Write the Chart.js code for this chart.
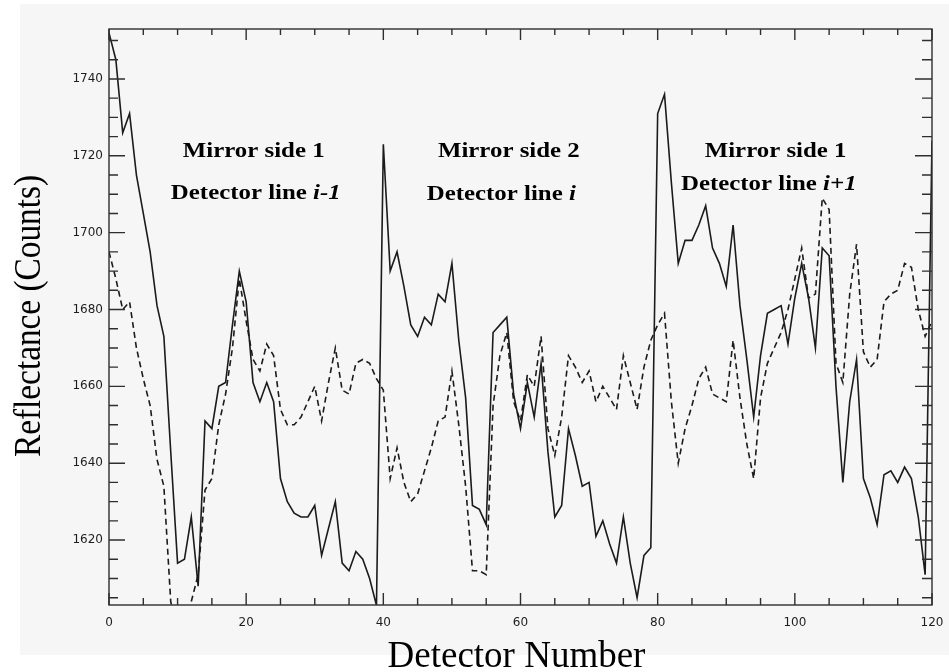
<!DOCTYPE html>
<html>
<head>
<meta charset="utf-8">
<script src="https://cdn.jsdelivr.net/npm/chart.js@4.4.1/dist/chart.umd.min.js"></script>
<style>
html,body{margin:0;padding:0;background:#fff;}
#wrap{width:949px;height:672px;position:relative;}
canvas{display:block;}
</style>
</head>
<body>
<div id="wrap"><canvas id="c" width="949" height="672"></canvas></div>
<script>
// ---- data ----
const detectors = [
  0,1,2,3,4,5,6,7,8,9,10,11,12,13,14,15,16,17,18,19,
  20,21,22,23,24,25,26,27,28,29,30,31,32,33,34,35,36,37,38,39,
  40,41,42,43,44,45,46,47,48,49,50,51,52,53,54,55,56,57,58,59,
  60,61,62,63,64,65,66,67,68,69,70,71,72,73,74,75,76,77,78,79,
  80,81,82,83,84,85,86,87,88,89,90,91,92,93,94,95,96,97,98,99,
  100,101,102,103,104,105,106,107,108,109,110,111,112,113,114,115,116,117,118,119,120
];
const solidCounts = [
  1752,1745,1726,1731,1715,1705,1695,1681,1673,1643,
  1614,1615,1626,1608,1651,1649,1660,1661,1676,1690,
  1682,1661,1656,1661,1656,1636,1630,1627,1626,1626,
  1629,1616,1623,1630,1614,1612,1617,1615,1610,1603,
  1723,1690,1695,1686,1676,1673,1678,1676,1684,1682,
  1692,1672,1657,1629,1628,1624,1674,1676,1678,1658,
  1649,1661,1652,1666,1643,1626,1629,1649,1642,1634,
  1635,1621,1625,1619,1614,1626,1614,1605,1616,1618,
  1731,1736,1713,1692,1698,1698,1702,1707,1696,1692,
  1686,1702,1681,1667,1652,1668,1679,1680,1681,1671,
  1683,1692,1683,1670,1696,1694,1660,1635,1656,1667,
  1636,1631,1624,1637,1638,1635,1639,1636,1626,1611,1724
];
const dashedCounts = [
  1695,1688,1680,1682,1670,1662,1655,1641,1634,1604,
  1596,1597,1604,1611,1633,1636,1650,1658,1670,1688,
  1677,1667,1664,1671,1668,1654,1650,1650,1652,1656,
  1660,1651,1661,1670,1659,1658,1666,1667,1666,1662,
  1659,1636,1644,1635,1630,1632,1638,1644,1651,1652,
  1664,1650,1634,1612,1612,1611,1655,1668,1674,1656,
  1651,1663,1660,1673,1649,1642,1652,1668,1665,1661,
  1664,1656,1660,1657,1654,1668,1661,1654,1665,1672,
  1676,1679,1656,1640,1649,1655,1662,1665,1658,1657,
  1656,1672,1657,1645,1636,1657,1666,1670,1674,1680,
  1688,1696,1683,1684,1709,1706,1666,1661,1684,1697,
  1669,1665,1667,1682,1684,1685,1692,1691,1680,1673,1677
];
const xTickLabels = [0,20,40,60,80,100,120];
const yTickLabels = [1620,1640,1660,1680,1700,1720,1740];
const xTitle = 'Detector Number';
const yTitle = 'Reflectance (Counts)';
// annotation texts, anchored in data units (detector, counts)
const annotationTexts = [
  {x:21.1, y:1719.8, runs:[{t:'Mirror side 1'}]},
  {x:21.4, y:1708.8, runs:[{t:'Detector line '},{t:'i-1',it:true}]},
  {x:58.3, y:1719.7, runs:[{t:'Mirror side 2'}]},
  {x:57.2, y:1708.5, runs:[{t:'Detector line '},{t:'i',it:true}]},
  {x:97.2, y:1719.7, runs:[{t:'Mirror side 1'}]},
  {x:96.2, y:1711.1, runs:[{t:'Detector line '},{t:'i+1',it:true}]}
];

// ---- styling ----
const ink = '#1b1b1b';
const frameInk = '#2e2e2e';
const serif = '"Liberation Serif", "Times New Roman", serif';

const bgPlugin = {
  id: 'bg',
  beforeDraw(chart) {
    const c = chart.ctx;
    c.save();
    c.fillStyle = '#ffffff';
    c.fillRect(0, 0, chart.width, chart.height);
    c.fillStyle = '#f6f6f6';
    c.fillRect(20, 4, chart.width - 20, 651);
    c.restore();
  }
};

const framePlugin = {
  id: 'frame',
  afterDatasetsDraw(chart) {
    const {ctx, chartArea: a, scales: {x, y}} = chart;
    ctx.save();
    ctx.strokeStyle = frameInk;
    ctx.lineWidth = 1.4;
    ctx.strokeRect(a.left, a.top, a.right - a.left, a.bottom - a.top);
    ctx.beginPath();
    x.ticks.forEach(t => {
      const px = x.getPixelForValue(t.value);
      const major = xTickLabels.includes(t.value);
      const lb = major ? 12 : 7, lt = major ? 11 : 6;
      ctx.moveTo(px, a.bottom); ctx.lineTo(px, a.bottom - lb);
      ctx.moveTo(px, a.top); ctx.lineTo(px, a.top + lt);
    });
    y.ticks.forEach(t => {
      const py = y.getPixelForValue(t.value);
      const major = yTickLabels.includes(t.value);
      const ll = major ? 16 : 9, lr = major ? 17 : 10;
      ctx.moveTo(a.left, py); ctx.lineTo(a.left + ll, py);
      ctx.moveTo(a.right, py); ctx.lineTo(a.right - lr, py);
    });
    ctx.stroke();
    ctx.restore();
  }
};

function drawRuns(ctx, runs, cx, by, size, sx) {
  ctx.save();
  ctx.translate(cx, by);
  ctx.scale(sx, 1);
  const fonts = runs.map(r => (r.it ? 'italic ' : '') + 'bold ' + size + 'px ' + serif);
  let total = 0;
  const widths = runs.map((r, i) => { ctx.font = fonts[i]; const w = ctx.measureText(r.t).width; total += w; return w; });
  let xx = -total / 2;
  ctx.textBaseline = 'alphabetic';
  ctx.textAlign = 'left';
  runs.forEach((r, i) => { ctx.font = fonts[i]; ctx.fillText(r.t, xx, 0); xx += widths[i]; });
  ctx.restore();
}

const textPlugin = {
  id: 'texts',
  afterDraw(chart) {
    const {ctx, chartArea: a, scales: {x, y}} = chart;
    ctx.save();
    ctx.fillStyle = '#000';
    annotationTexts.forEach(an => {
      drawRuns(ctx, an.runs, x.getPixelForValue(an.x), y.getPixelForValue(an.y), 22, 1.13);
    });
    // x axis title
    ctx.font = '37px ' + serif;
    ctx.textAlign = 'center';
    ctx.textBaseline = 'alphabetic';
    ctx.fillText(xTitle, (a.left + a.right) / 2 - 4, 667);
    // y axis title
    ctx.save();
    ctx.translate(40, (a.top + a.bottom) / 2 - 1);
    ctx.rotate(-Math.PI / 2);
    ctx.scale(0.9, 1);
    ctx.font = '37px ' + serif;
    ctx.textAlign = 'center';
    ctx.fillText(yTitle, 0, 0);
    ctx.restore();
    ctx.restore();
  }
};

const toPoints = vals => vals.map((v, i) => ({x: detectors[i], y: v}));

new Chart(document.getElementById('c'), {
  type: 'line',
  data: {
    datasets: [
      {label: 'Solid', data: toPoints(solidCounts), borderColor: ink, borderWidth: 1.6,
       pointRadius: 0, tension: 0, fill: false},
      {label: 'Dashed', data: toPoints(dashedCounts), borderColor: ink, borderWidth: 1.6,
       borderDash: [6, 4], pointRadius: 0, tension: 0, fill: false}
    ]
  },
  options: {
    responsive: false,
    animation: false,
    events: [],
    layout: {padding: {left: 0, right: 17, top: 29, bottom: 0}},
    plugins: {legend: {display: false}, tooltip: {enabled: false}, title: {display: false}},
    scales: {
      x: {
        type: 'linear', min: 0, max: 120,
        grid: {display: false, drawTicks: false},
        border: {display: false},
        ticks: {
          stepSize: 5, autoSkip: false, maxRotation: 0, padding: 11,
          color: '#1e1e1e', font: {family: '"DejaVu Sans", sans-serif', size: 12},
          callback: v => xTickLabels.includes(v) ? String(v) : ''
        },
        afterFit: s => { s.height = 67; s.paddingLeft = 0; s.paddingRight = 0; }
      },
      y: {
        type: 'linear', min: 1603.1, max: 1753,
        grid: {display: false, drawTicks: false},
        border: {display: false},
        ticks: {
          stepSize: 5, autoSkip: false, includeBounds: false, padding: 6,
          color: '#1e1e1e', font: {family: '"DejaVu Sans", sans-serif', size: 12},
          callback: v => yTickLabels.includes(v) ? String(v) : ''
        },
        afterFit: s => { s.width = 109; s.paddingTop = 0; s.paddingBottom = 0; }
      }
    }
  },
  plugins: [bgPlugin, framePlugin, textPlugin]
});
</script>
</body>
</html>
